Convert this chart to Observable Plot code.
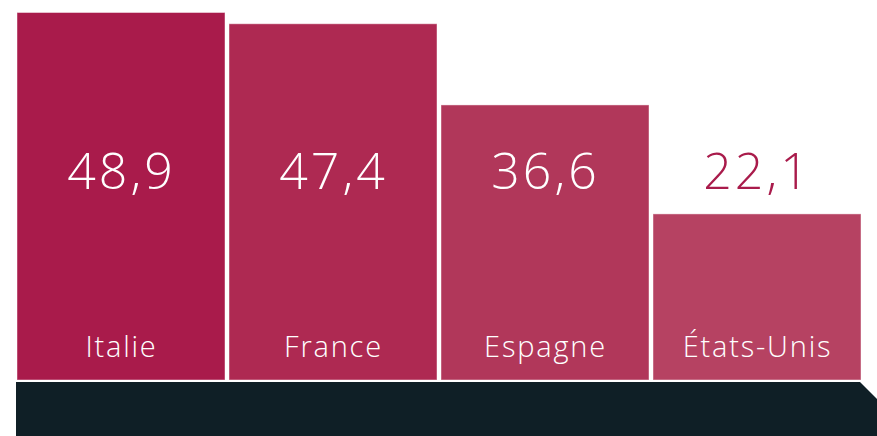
<!DOCTYPE html>
<html>
<head>
<meta charset="utf-8">
<script src="https://cdn.jsdelivr.net/npm/d3@7"></script>
<script src="https://cdn.jsdelivr.net/npm/@observablehq/plot@0.6"></script>
<style>
  html, body { margin: 0; padding: 0; background: #ffffff; }
  #chart svg { display: block; }
  #chart text.value-label { letter-spacing: 3px; }
  #chart text.cat-label { letter-spacing: 1.8px; }
</style>
</head>
<body>
<div id="chart"></div>
<script>
const categories = ["Italie", "France", "Espagne", "États-Unis"];
const values = [48.9, 47.4, 36.6, 22.1];
const barColors = ["#A91B4B", "#AE2952", "#B1375A", "#B64262"];
const labelInsideColor = "#FFFFFF";
const labelOutsideColor = "#A91B4B";
const baseColor = "#0F1F26";

const data = categories.map((c, i) => ({
  category: c,
  value: values[i],
  color: barColors[i],
  label: values[i].toFixed(1).replace(".", ",")
}));

const W = 877, H = 436;
const fontFamily = "'Open Sans', Lato, sans-serif";

const plot = Plot.plot({
  width: W,
  height: H,
  marginLeft: 16.5,
  marginRight: 16,
  marginTop: 12.5,
  marginBottom: 56,
  style: { fontFamily, background: "transparent" },
  x: { domain: categories, paddingInner: 0.019, paddingOuter: 0, axis: null },
  y: { domain: [0, 48.9], axis: null },
  marks: [
    Plot.barY(data, {
      x: "category",
      y: "value",
      fill: "color",
      stroke: "#ffffff",
      strokeOpacity: 0.45,
      strokeWidth: 1,
      inset: 0
    }),
    Plot.text(data, {
      x: "category",
      frameAnchor: "top",
      dy: 160,
      text: "label",
      fill: d => d.value > 30 ? labelInsideColor : labelOutsideColor,
      fontSize: 50,
      fontWeight: 300,
      lineAnchor: "middle",
      className: "value-label"
    }),
    Plot.text(data, {
      x: "category",
      y: () => 0,
      dy: -33,
      text: "category",
      fill: labelInsideColor,
      fontSize: 29,
      fontWeight: 300,
      lineAnchor: "middle",
      className: "cat-label"
    })
  ]
});

// Apply classes to text elements (className applies to the mark group)
d3.select(plot).selectAll("g.value-label text").classed("value-label", true);
d3.select(plot).selectAll("g.cat-label text").classed("cat-label", true);

// Dark base band with chevron tip, positioned from the plot's scales
const xs = plot.scale("x");
const ys = plot.scale("y");
const left = xs.range[0] - 0.5;
const y0 = ys.apply(0) + 2;
const tipStart = xs.range[1] - 1;
const svg = d3.select(plot);
svg.append("path")
  .attr("d", `M${left},${y0}L${tipStart},${y0}L${W},${y0 + (W - tipStart)}L${W},${H}L${left},${H}Z`)
  .attr("fill", baseColor);

document.getElementById("chart").appendChild(plot);
</script>
</body>
</html>
